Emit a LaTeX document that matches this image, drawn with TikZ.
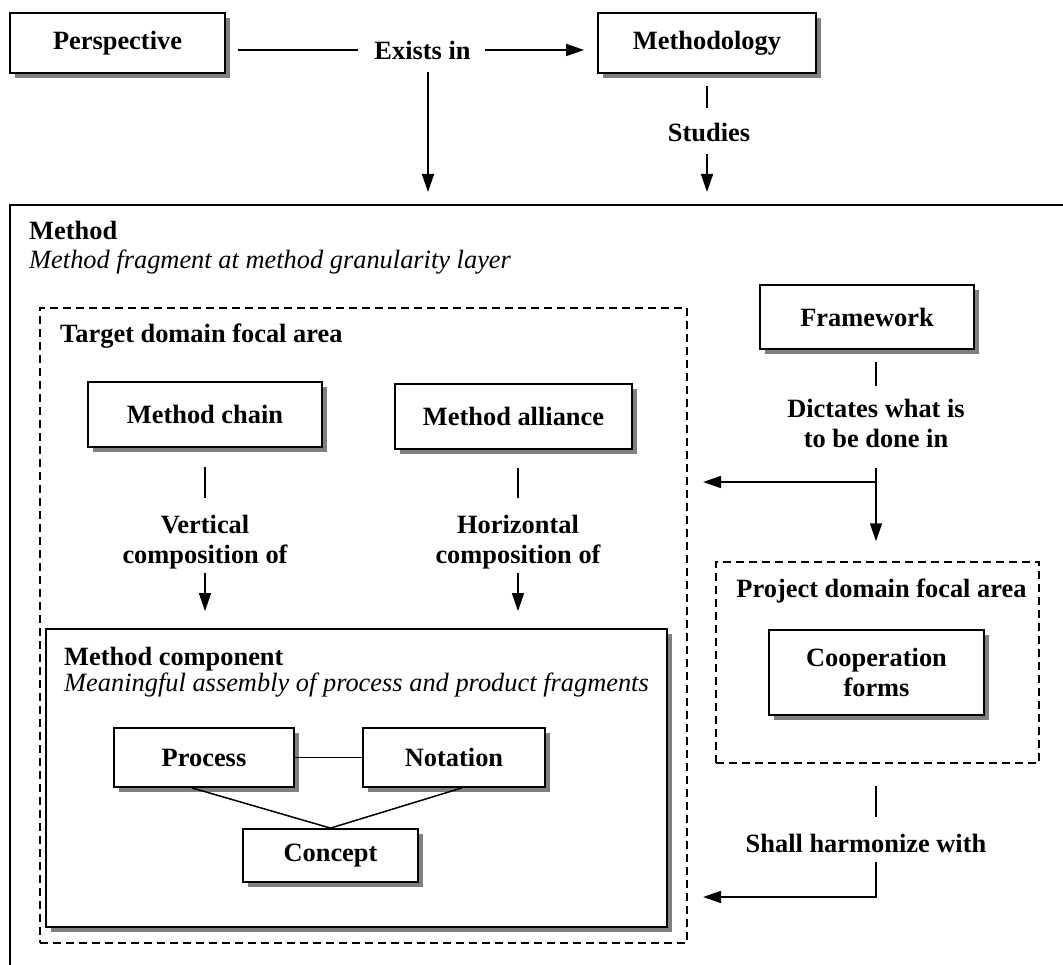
\documentclass[tikz,border=0pt]{standalone}
\usepackage{fontspec}
\setmainfont{Liberation Serif}
\usetikzlibrary{arrows.meta,shadows,calc}
\newcommand\dgfont{\fontsize{26.4}{30}\selectfont}
\begin{document}
\begin{tikzpicture}[x=1pt,y=-1pt,
  box/.style={draw, line width=1.8pt, fill=white, font=\dgfont\bfseries, align=center, inner sep=0pt,
    drop shadow={shadow xshift=5pt, shadow yshift=-5pt, fill=black!50, opacity=1}},
  lbl/.style={font=\dgfont\bfseries, align=center, inner sep=0pt},
  title/.style={font=\dgfont\bfseries, anchor=base west, inner sep=0pt},
  sub/.style={font=\dgfont\itshape, anchor=base west, inner sep=0pt},
  con/.style={line width=1.5pt},
  arr/.style={con, -{Triangle[length=18pt,width=12pt]}},
  dbox/.style={draw, line width=1.8pt, dash pattern=on 8pt off 5pt, inner sep=0pt}
]
\useasboundingbox[fill=white] (0,0) rectangle (1063,965);

% outer Method container (runs off the page)
\draw[line width=2.2pt] (1063,205) -- (10,205) -- (10,965);
\node[title] (methodT) at (29,240) {Method};
\node[sub] (methodS) at (29,269) {Method fragment at method granularity layer};

% top row
\node[box, minimum width=215pt, minimum height=60pt] (persp) at (117.5,43) {Perspective};
\node[box, minimum width=218pt, minimum height=60pt] (methodology) at (707,43) {Methodology};
\node[lbl] (exists) at (422.5,50) {Exists in};
\node[lbl] (studies) at (709,133) {Studies};

\coordinate (inA) at (428,192);
\coordinate (inB) at (707,192);

\draw[con] ($(persp.east |- exists.west)+(12,0)$) -- ($(exists.west)+(-16,0)$);
\draw[arr] ($(exists.east)+(14,0)$) -- ($(methodology.west |- exists.east)+(-13,0)$);
\draw[arr] ($(exists.south)+(5.5,13)$) -- (inA);
\draw[con] ($(methodology.south)+(0,12)$) -- ++(0,22);
\draw[arr] ($(methodology.south)+(0,80)$) -- (inB);

% target domain focal area
\node[dbox, minimum width=647pt, minimum height=635pt] (target) at (363.5,625.5) {};
\node[title] (targetT) at (60,343) {Target domain focal area};

\node[box, minimum width=234pt, minimum height=65pt] (mchain) at (205,414.5) {Method chain};
\node[box, minimum width=237pt, minimum height=65pt] (malliance) at (513.5,416.5) {Method alliance};
\node[lbl] (vert) at (205,542) {Vertical\\composition of};
\node[lbl] (horiz) at (518,542) {Horizontal\\composition of};

% method component
\node[box, minimum width=621pt, minimum height=298pt] (mcomp) at (356.5,778) {};
\node[title] (mcompT) at (64,665) {Method component};
\node[sub] (mcompS) at (64,691) {Meaningful assembly of process and product fragments};

\node[box, minimum width=180pt, minimum height=59pt] (process) at (204,757.5) {Process};
\node[box, minimum width=182pt, minimum height=59pt] (notation) at (454,757.5) {Notation};
\node[box, minimum width=175pt, minimum height=53pt] (concept) at (330.5,855.5) {Concept};

\draw[con] ($(mchain.south)+(0,19)$) -- ($(vert.north)+(0,-17)$);
\draw[arr] ($(vert.south)+(0,4)$) -- ($(mcomp.north -| vert.south)+(0,-17)$);
\draw[con] ($(malliance.south -| horiz.north)+(0,18)$) -- ($(horiz.north)+(0,-17)$);
\draw[arr] ($(horiz.south)+(0,4)$) -- ($(mcomp.north -| horiz.south)+(0,-17)$);

\draw[con] (process.east) -- (notation.west);
\draw[con] ($(process.south)+(-12,0)$) -- (concept.north);
\draw[con] ($(notation.south)+(8,0)$) -- (concept.north);

% framework side
\node[box, minimum width=214pt, minimum height=64pt] (framework) at (867,317) {Framework};
\node[lbl] (dictates) at (876,423) {Dictates what is\\to be done in};
\node[dbox, line width=1.5pt, minimum width=323pt, minimum height=201pt] (project) at (877.5,662.5) {};
\node[lbl, anchor=base] (projectT) at (881.5,597) {Project domain focal area};
\node[box, minimum width=215pt, minimum height=85pt] (coop) at (876.5,672.5) {Cooperation\\forms};
\node[lbl, anchor=base] (shall) at (866,852) {Shall harmonize with};

\coordinate (junc) at (876,482);
\coordinate (dEnd) at (703,482);
\coordinate (hEnd) at (703,897);

\draw[con] ($(framework.south -| dictates.north)+(0,12)$) -- ($(dictates.north)+(0,-13)$);
\draw[arr] ($(dictates.south)+(0,21)$) -- ($(project.north -| dictates.south)+(0,-20)$);
\draw[arr] (junc) -- (dEnd);
\draw[con] ($(project.south)+(-1.5,22)$) -- ++(0,31);
\draw[arr] ($(shall.south)+(10,10)$) |- (hEnd);
\end{tikzpicture}
\end{document}
